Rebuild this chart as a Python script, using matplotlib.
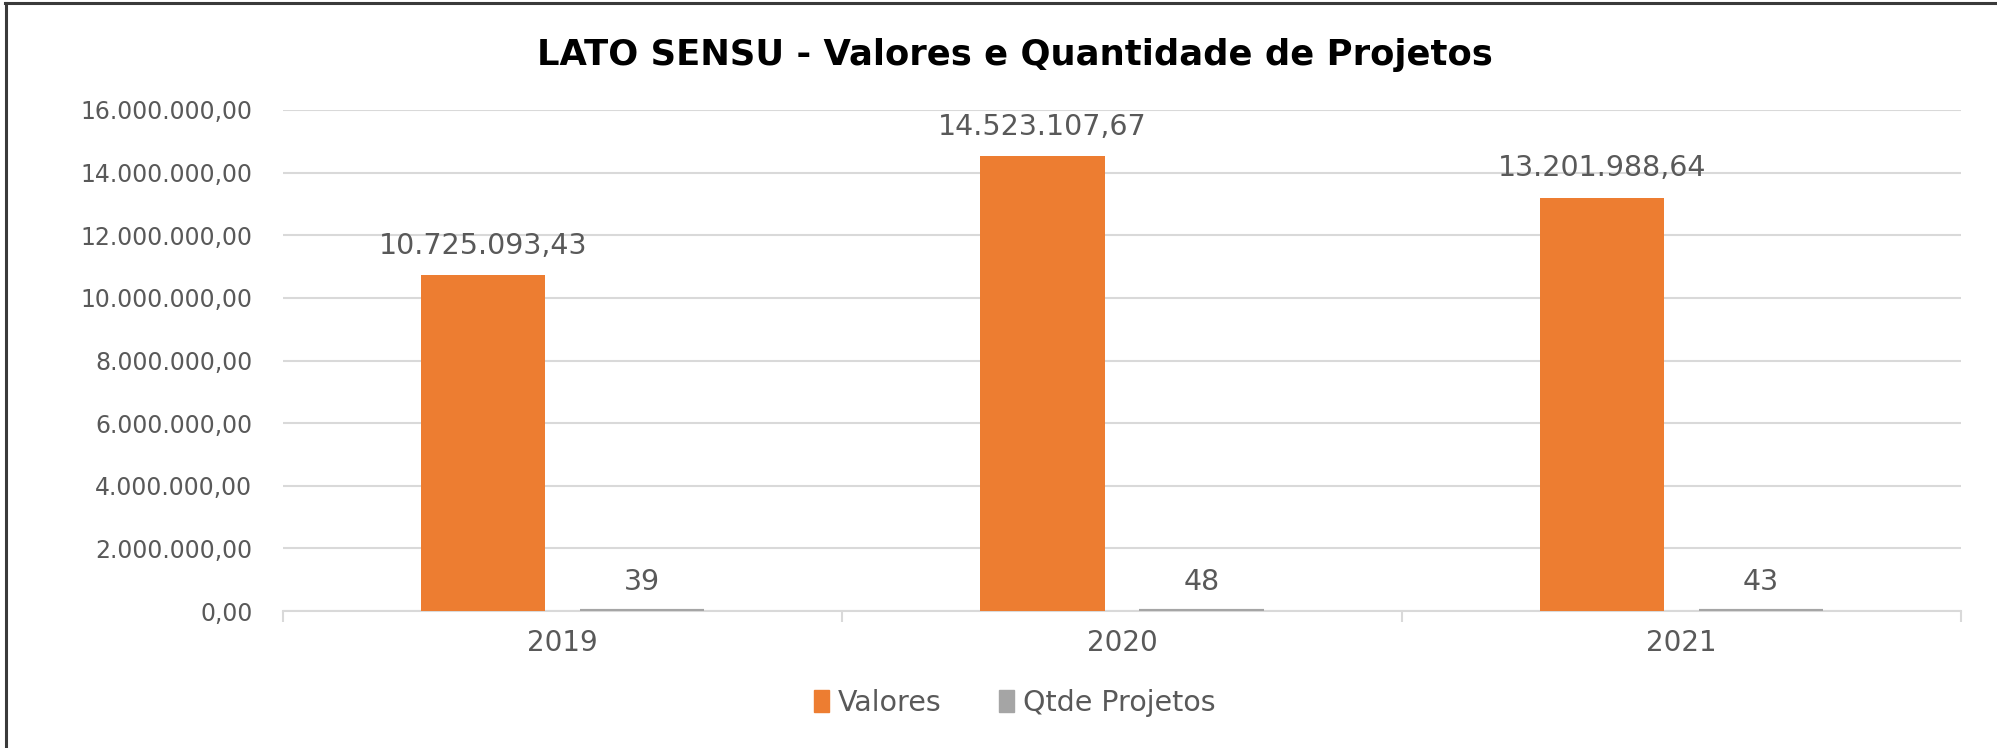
import numpy as np
import matplotlib
matplotlib.use("Agg")
import matplotlib.pyplot as plt
from matplotlib.lines import Line2D
from matplotlib.patches import Patch
from matplotlib.ticker import FuncFormatter, FixedLocator

# data
anos = ["2019", "2020", "2021"]
valores = [10725093.43, 14523107.67, 13201988.64]
qtde_projetos = [39, 48, 43]
yticks = [0, 2e6, 4e6, 6e6, 8e6, 10e6, 12e6, 14e6, 16e6]

ORANGE = "#ED7D31"
GRAY = "#A5A5A5"
TXT = "#595959"
GRID = "#D9D9D9"


def fmt_br(v, pos=None):
    """16000000 -> '16.000.000,00' (pt-BR style)"""
    s = f"{v:,.2f}"
    return s.replace(",", "X").replace(".", ",").replace("X", ".")


plt.rcParams["font.family"] = ["DejaVu Sans"]

fig = plt.figure(figsize=(19.97, 7.48), dpi=100)
ax = fig.add_axes([0.1417, 0.183, 0.982 - 0.1417, 0.853 - 0.183])

x = np.arange(len(anos))
w, off = 0.222, 0.142
b1 = ax.bar(x - off, valores, w, color=ORANGE, zorder=3)
b2 = ax.bar(x + off, qtde_projetos, w, color=GRAY, edgecolor=GRAY, lw=3, zorder=3)

for rect, v in zip(b1, valores):
    ax.annotate(fmt_br(v), (rect.get_x() + rect.get_width() / 2, v),
                xytext=(0, 11), textcoords="offset points", ha="center", va="bottom",
                fontsize=20.5, color=TXT)
for rect, v in zip(b2, qtde_projetos):
    ax.annotate(str(v), (rect.get_x() + rect.get_width() / 2, v),
                xytext=(0, 11), textcoords="offset points", ha="center", va="bottom",
                fontsize=20.5, color=TXT)

ax.set_ylim(0, 16e6)
ax.set_xlim(-0.5, 2.5)
ax.set_yticks(yticks)
ax.yaxis.set_major_formatter(FuncFormatter(fmt_br))
ax.set_xticks(x)
ax.set_xticklabels(anos)
ax.xaxis.set_minor_locator(FixedLocator([-0.5, 0.5, 1.5, 2.5]))
ax.tick_params(axis="x", which="major", length=0, pad=13, labelsize=20, labelcolor=TXT)
ax.tick_params(axis="x", which="minor", length=8, width=1.5, color=GRID)
ax.tick_params(axis="y", length=0, pad=22, labelsize=17, labelcolor=TXT)

ax.grid(axis="y", color=GRID, lw=1.5, zorder=0)
for side in ("top", "right", "left"):
    ax.spines[side].set_visible(False)
ax.spines["bottom"].set_color(GRID)
ax.spines["bottom"].set_linewidth(1.5)

fig.text(0.508, 0.926, "LATO SENSU - Valores e Quantidade de Projetos",
         ha="center", va="center", fontsize=25.5, fontweight="bold", color="black")

handles = [Patch(color=ORANGE, label="Valores"), Patch(color=GRAY, label="Qtde Projetos")]
fig.legend(handles=handles, loc="center", bbox_to_anchor=(0.508, 0.06), ncol=2,
           frameon=False, fontsize=20.5, labelcolor=TXT, handlelength=0.55,
           handleheight=0.8, handletextpad=0.3, columnspacing=2.0)

# frame visible only on top and left edges of the crop
fig.add_artist(Line2D([5 / 1997, 1], [1 - 3 / 748] * 2, color="#3a3a3a", lw=2.2,
                      transform=fig.transFigure))
fig.add_artist(Line2D([6 / 1997] * 2, [0, 1 - 3 / 748], color="#3a3a3a", lw=2.2,
                      transform=fig.transFigure))

fig.savefig("out.png", dpi=100, facecolor="white")
